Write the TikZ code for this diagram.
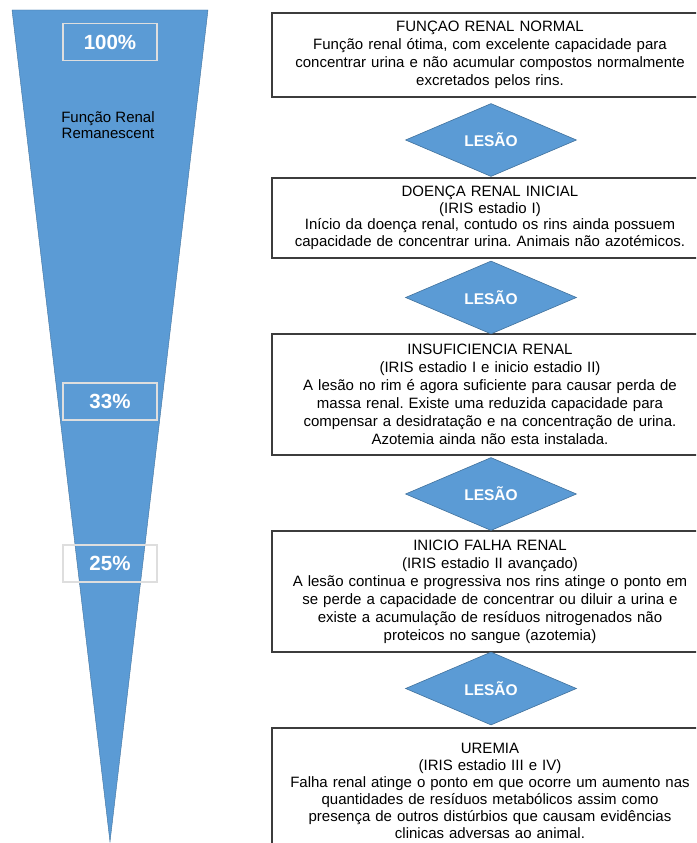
\documentclass[tikz,border=0pt]{standalone}
\usepackage{fontspec}
\setmainfont{Liberation Sans}
\usetikzlibrary{shapes.geometric}
\definecolor{funil}{RGB}{91,155,213}
\definecolor{funilborda}{RGB}{65,113,156}
\definecolor{moldura}{RGB}{60,60,60}
\definecolor{pctborda}{RGB}{222,222,222}
\frenchspacing

\begin{document}
\begin{tikzpicture}[x=1pt,y=-1pt,
  estagio/.style={draw=moldura,line width=1.3pt,fill=white,text width=436pt,align=center,inner sep=0pt,font=\fontsize{15}{18}\selectfont},
  lesao/.style={shape=diamond,draw=funilborda,line width=0.6pt,fill=funil,inner sep=0pt,minimum width=171pt,minimum height=73pt,text=white,font=\bfseries\fontsize{15.5}{17}\selectfont},
  pct/.style={draw=pctborda,line width=1.2pt,minimum width=94pt,minimum height=37pt,inner sep=0pt,text=white,font=\bfseries\fontsize{20.5}{22}\selectfont}]
\useasboundingbox (0,0) rectangle (696,843);
\clip (0,0) rectangle (696,843);
\fill[funil,draw=funilborda,line width=0.4pt] (12,10) -- (208,10) -- (110,842) -- cycle;
\node[pct] (p100) at (110,42) {100\%};
\node[pct] (p33) at (110,401.5) {33\%};
\node[pct] (p25) at (110,563.5) {25\%};
\node[align=center,font=\fontsize{15}{16}\selectfont] (remanescente) at (108,125) {Função Renal\\Remanescent};

\node[estagio,minimum height=84pt] (normal) at (490,55) {FUNÇAO RENAL NORMAL\\
Função renal ótima, com excelente capacidade para\\
concentrar urina e não acumular compostos normalmente\\
excretados pelos rins.\par\vspace{19pt}};
\node[estagio,minimum height=80pt,font=\fontsize{15}{16.5}\selectfont] (inicial) at (490,218) {DOENÇA RENAL INICIAL\\
(IRIS estadio I)\\
Início da doença renal, contudo os rins ainda possuem\\
capacidade de concentrar urina. Animais não azotémicos.};
\node[estagio,minimum height=121pt] (insuficiencia) at (490,394.5) {INSUFICIENCIA RENAL\\
(IRIS estadio I e inicio estadio II)\\
A lesão no rim é agora suficiente para causar perda de\\
massa renal. Existe uma reduzida capacidade para\\
compensar a desidratação e na concentração de urina.\\
Azotemia ainda não esta instalada.};
\node[estagio,minimum height=121pt] (falha) at (490,591.5) {INICIO FALHA RENAL\\
(IRIS estadio II avançado)\\
A lesão continua e progressiva nos rins atinge o ponto em\\
se perde a capacidade de concentrar ou diluir a urina e\\
existe a acumulação de resíduos nitrogenados não\\
proteicos no sangue (azotemia)};
\node[estagio,minimum height=125pt,font=\fontsize{15}{17}\selectfont] (uremia) at (490,790.5) {UREMIA\\
(IRIS estadio III e IV)\\
Falha renal atinge o ponto em que ocorre um aumento nas\\
quantidades de resíduos metabólicos assim como\\
presença de outros distúrbios que causam evidências\\
clinicas adversas ao animal.\par\vspace{10pt}};

\node[lesao] (lesao1) at (491,140) {LESÃO};
\node[lesao] (lesao2) at (491,297.5) {LESÃO};
\node[lesao] (lesao3) at (491,494) {LESÃO};
\node[lesao] (lesao4) at (491,688.5) {LESÃO};
\end{tikzpicture}
\end{document}
